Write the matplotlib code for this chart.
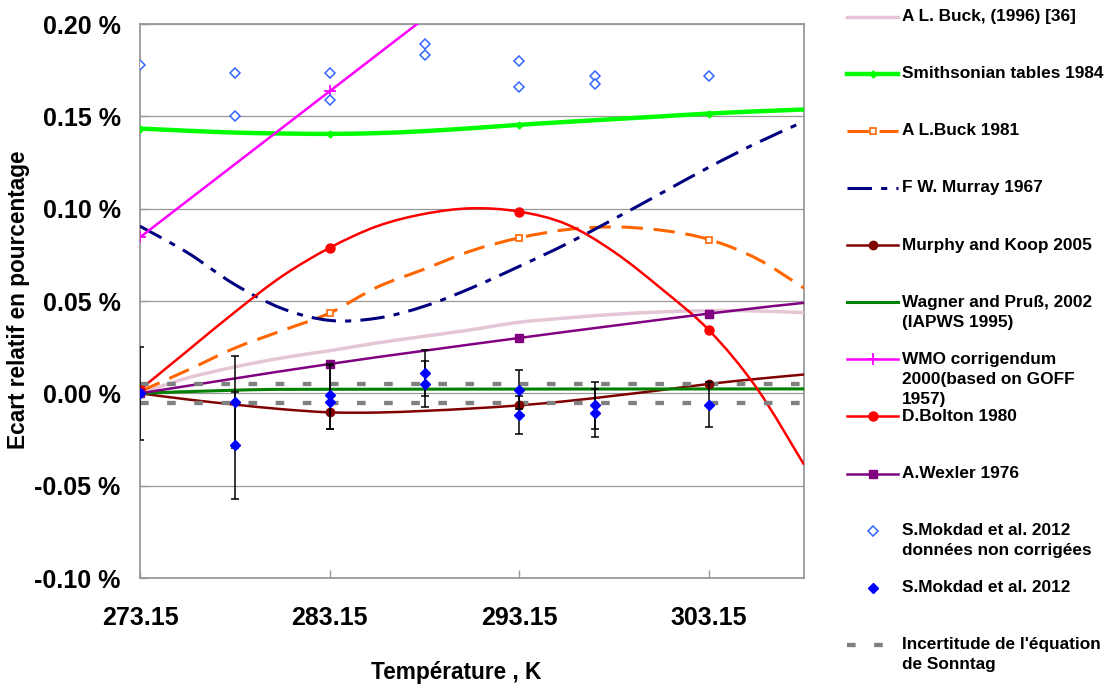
import matplotlib.pyplot as plt
from matplotlib.lines import Line2D
from matplotlib.patches import PathPatch
from matplotlib.path import Path
from matplotlib.ticker import FixedLocator, FuncFormatter

plt.rcParams["font.family"] = ["Liberation Sans", "DejaVu Sans"]
plt.rcParams["font.weight"] = "bold"

# temperature grid (K) on which the smooth curves were read
temps = [273.15, 275.65, 278.15, 280.65, 283.15, 285.65, 288.15, 290.65,
         293.15, 295.65, 298.15, 300.65, 303.15, 305.65, 308.15]

buck_1996 = [0.0, 0.0083, 0.0143, 0.0192, 0.0231, 0.0273, 0.0309, 0.0345,
             0.0385, 0.0408, 0.0428, 0.0441, 0.0448, 0.0446, 0.0437]
smithsonian = [0.1434, 0.1422, 0.1412, 0.1407, 0.1405, 0.1409, 0.1420, 0.1436,
               0.1454, 0.1470, 0.1485, 0.1500, 0.1515, 0.1527, 0.1537]
buck_1981 = [0.001, 0.0125, 0.0245, 0.034, 0.0435, 0.0575, 0.0673, 0.0773,
             0.0842, 0.0887, 0.0901, 0.0883, 0.0833, 0.073, 0.057]
murray = [0.0905, 0.0762, 0.0589, 0.0459, 0.0395, 0.0407, 0.0472, 0.0572,
          0.0688, 0.081, 0.0945, 0.1085, 0.1225, 0.1355, 0.1472]
murphy_koop = [0.0, -0.0033, -0.0061, -0.0086, -0.0103, -0.0104, -0.0095, -0.0082,
               -0.0065, -0.0042, -0.0013, 0.0018, 0.0051, 0.0078, 0.0102]
bolton = [0.002, 0.023, 0.044, 0.0635, 0.0788, 0.0905, 0.0972, 0.1002,
          0.0984, 0.0915, 0.0765, 0.0565, 0.0341, 0.003, -0.0386]

wagner_t = [273.15, 278.15, 283.15, 308.15]
wagner = [0.0, 0.0017, 0.0022, 0.0024]

wmo_t = [273.15, 283.15, 293.15]
wmo = [0.0845, 0.1636, 0.2427]

wexler_t = [273.15, 283.15, 293.15, 303.15, 308.15]
wexler = [0.0, 0.0159, 0.030, 0.0432, 0.049]

raw_t = [273.15, 278.15, 278.15, 283.15, 283.15, 288.15, 288.15,
         293.15, 293.15, 297.15, 297.15, 303.15]
raw = [0.1777, 0.1733, 0.150, 0.1737, 0.159, 0.1889, 0.1833,
       0.1798, 0.166, 0.1716, 0.1674, 0.172]

mokdad_t = [273.15, 278.15, 278.15, 283.15, 283.15, 288.15, 288.15,
            293.15, 293.15, 297.15, 297.15, 303.15]
mokdad = [0.0, -0.0047, -0.0282, -0.0011, -0.0045, 0.011, 0.0052,
          0.002, -0.0117, -0.0061, -0.0105, -0.0061]
mokdad_lo = [0.025, 0.025, 0.029, 0.018, 0.0146, 0.0125, 0.0125,
             0.0105, 0.0105, 0.013, 0.013, 0.0123]
mokdad_hi = [0.025, 0.025, 0.029, 0.017, 0.020, 0.0125, 0.0125,
             0.0105, 0.0105, 0.0125, 0.013, 0.0123]

sonntag_t = [273.15, 308.15]
sonntag_hi = [0.005, 0.005]
sonntag_lo = [-0.005, -0.005]

x_ticks = [273.15, 283.15, 293.15, 303.15]
y_ticks = [-0.10, -0.05, 0.0, 0.05, 0.10, 0.15, 0.20]


def smooth_path(xs, ys):
    # smoothed line like the spreadsheet: cubic Bezier through the read points
    pts = list(zip(xs, ys))
    n = len(pts)
    verts, codes = [pts[0]], [Path.MOVETO]
    for i in range(n - 1):
        p0 = pts[max(i - 1, 0)]
        p1, p2 = pts[i], pts[i + 1]
        p3 = pts[min(i + 2, n - 1)]
        c1 = (p1[0] + (p2[0] - p0[0]) / 6, p1[1] + (p2[1] - p0[1]) / 6)
        c2 = (p2[0] - (p3[0] - p1[0]) / 6, p2[1] - (p3[1] - p1[1]) / 6)
        verts += [c1, c2, p2]
        codes += [Path.CURVE4] * 3
    return Path(verts, codes)


W, H = 1110, 686
fig = plt.figure(figsize=(W / 100, H / 100), dpi=100)
ax = fig.add_axes([140 / W, 1 - 578 / H, 664 / W, 554 / H])

# line part and marker part of each series
lines = {
    "buck96": dict(color="#E5C6D6", lw=2.5, ls="-"),
    "smith": dict(color="#00FF00", lw=3.2, ls="-"),
    "buck81": dict(color="#FF6600", lw=2.2, ls=(0, (7, 3.5))),
    "murray": dict(color="#000080", lw=2.2, ls=(0, (8, 3, 2, 3))),
    "murphy": dict(color="#800000", lw=1.8, ls="-"),
    "wagner": dict(color="#008000", lw=2.2, ls="-"),
    "wmo": dict(color="#FF00FF", lw=1.8, ls="-"),
    "bolton": dict(color="#FF0000", lw=1.8, ls="-"),
    "wexler": dict(color="#800080", lw=1.8, ls="-"),
    "raw": None,
    "mokdad": None,
    "sonntag": dict(color="#808080", lw=3.1, ls=(0, (2, 4.3))),
}
marks = {
    "smith": dict(marker="D", ms=3.5, color="#00FF00"),
    "buck81": dict(marker="s", ms=5, mfc="white", mec="#FF6600", mew=1.2),
    "murphy": dict(marker="o", ms=6, color="#800000"),
    "wmo": dict(marker="+", ms=8, mew=1.3, color="#FF00FF"),
    "bolton": dict(marker="o", ms=6.5, color="#FF0000"),
    "wexler": dict(marker="s", ms=6, color="#800080"),
    "raw": dict(marker="D", ms=5, mfc="white", mec="#3366FF", mew=1.1),
    "mokdad": dict(marker="D", ms=5.5, color="#0000FF"),
}

curves = [
    ("buck96", temps, buck_1996),
    ("smith", temps, smithsonian),
    ("buck81", temps, buck_1981),
    ("murray", temps, murray),
    ("murphy", temps, murphy_koop),
    ("wagner", wagner_t, wagner),
    ("wmo", wmo_t, wmo),
    ("bolton", temps, bolton),
    ("wexler", wexler_t, wexler),
]
for key, xs, ys in curves:
    st = lines[key]
    ax.add_patch(PathPatch(smooth_path(xs, ys), fill=False, edgecolor=st["color"],
                           lw=st["lw"], ls=st["ls"], zorder=3))
    if key in marks:
        every = [0, 4, 8, 12] if xs is temps else list(range(min(len(xs), 4)))
        ax.plot([xs[i] for i in every], [ys[i] for i in every], ls="none",
                zorder=3.5, **marks[key])

st = lines["sonntag"]
for band in (sonntag_hi, sonntag_lo):
    ax.plot(sonntag_t, band, color=st["color"], lw=st["lw"], ls=st["ls"], zorder=3)

ax.plot(raw_t, raw, ls="none", zorder=4, **marks["raw"])
ax.errorbar(mokdad_t, mokdad, yerr=[mokdad_lo, mokdad_hi], fmt="none",
            ecolor="black", elinewidth=1.1, capsize=3, capthick=1.1, zorder=4)
ax.plot(mokdad_t, mokdad, ls="none", zorder=5, **marks["mokdad"])

ax.set_xlim(273.15, 308.15)
ax.set_ylim(-0.10, 0.20)
ax.xaxis.set_major_locator(FixedLocator(x_ticks))
ax.yaxis.set_major_locator(FixedLocator(y_ticks))
ax.xaxis.set_major_formatter(FuncFormatter(lambda v, p: f"{v:.2f}"))
ax.yaxis.set_major_formatter(FuncFormatter(lambda v, p: f"{round(v, 2) + 0:.2f} %"))
ax.tick_params(axis="both", direction="in", length=6, width=1, color="#999999",
               labelsize=18)
ax.tick_params(axis="x", pad=20)
ax.tick_params(axis="y", pad=14)
ax.grid(axis="y", color="#999999", lw=0.9)
ax.set_axisbelow(True)
for sp in ax.spines.values():
    sp.set_color("#999999")
    sp.set_linewidth(1.3)

fig.text(456 / W, 1 - 679 / H, "Température , K", fontsize=16.3,
         fontweight="bold", ha="center", va="baseline")
fig.text(19 / W, 1 - 300 / H, "Ecart relatif en pourcentage", fontsize=16.3,
         fontweight="bold", rotation=90, ha="center", va="center")

legend_items = [
    ("A L. Buck, (1996) [36]", "buck96"),
    ("Smithsonian tables 1984", "smith"),
    ("A L.Buck 1981", "buck81"),
    ("F W. Murray 1967", "murray"),
    ("Murphy and Koop 2005", "murphy"),
    ("Wagner and Pruß, 2002\n(IAPWS 1995)", "wagner"),
    ("WMO corrigendum\n2000(based on GOFF\n1957)", "wmo"),
    ("D.Bolton 1980", "bolton"),
    ("A.Wexler 1976", "wexler"),
    ("S.Mokdad et al. 2012\ndonnées non corrigées", "raw"),
    ("S.Mokdad et al. 2012", "mokdad"),
    ("Incertitude de l'équation\nde Sonntag", "sonntag"),
]

x0, x1 = 847 / W, 898 / W
for i, (label, key) in enumerate(legend_items):
    y = 1 - (16.7 + 57.1 * i) / H
    if lines[key] is not None:
        st = lines[key]
        fig.add_artist(Line2D([x0, x1], [y, y], transform=fig.transFigure,
                              color=st["color"], lw=st["lw"], ls=st["ls"]))
    if key in marks:
        fig.add_artist(Line2D([(x0 + x1) / 2], [y], transform=fig.transFigure,
                              ls="none", **marks[key]))
    for j, part in enumerate(label.split("\n")):
        fig.text(902 / W, y - j * 20 / H, part, fontsize=12.4,
                 fontweight="bold", ha="left", va="center")

fig.savefig("out.png", dpi=100)
